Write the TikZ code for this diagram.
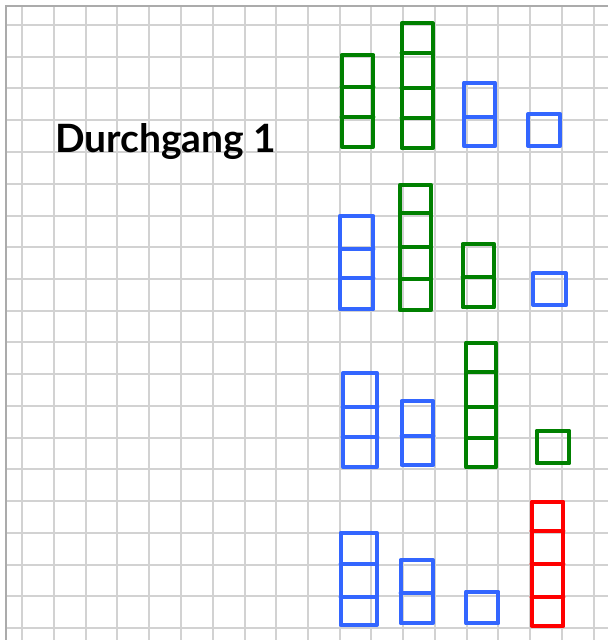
\documentclass[tikz,border=0pt]{standalone}
\usepackage{fontspec}
\setmainfont{Lato}
\definecolor{gridgray}{HTML}{D2D2D2}
\definecolor{bordergray}{HTML}{ABABAB}
\definecolor{pengreen}{HTML}{008000}
\definecolor{penblue}{HTML}{3366FF}
\definecolor{penred}{HTML}{FF0000}
\newcommand{\stackbar}[6]{%
  \draw[penline,#1] (#2,#4) rectangle (#3,#5);
  \foreach \yy in {#6} {\draw[penline,#1] (#2,\yy) -- (#3,\yy);}
}
\newcommand{\onecell}[5]{%
  \draw[penline,#1] (#2,#4) rectangle (#3,#5);
}
\begin{document}
\begin{tikzpicture}[x=1pt,y=-1pt,
  paperline/.style={draw=gridgray,line width=1.5pt},
  borderline/.style={draw=bordergray,line width=2pt},
  penline/.style={line width=4.2pt,line join=round,line cap=round},
  hand/.style={font=\bfseries\fontsize{39}{39}\selectfont,inner sep=0pt}]
\useasboundingbox (0,0) rectangle (608,640);
\fill[white] (0,0) rectangle (608,640);
% grid
\foreach \gx in {22,54,86,117,149,181,213,245,276,308,340,371,403,435,467,498,530,562,594}
  {\path[paperline] (\gx,7) -- (\gx,640);}
\foreach \gy in {25,57,88,120,152,184,216,247,279,311,342,374,406,438,469,501,533,565,596,628}
  {\path[paperline] (7,\gy) -- (608,\gy);}
\path[borderline] (6,640) -- (6,6) -- (608,6);
% title
\node[hand,anchor=base west] (title) at (55,152) {Durchgang 1};
% row 1
\stackbar{pengreen}{341.7}{373.3}{55}{146.7}{86.7,117.3}
\stackbar{pengreen}{401.7}{432.7}{23.3}{148.3}{52.7,88.3,118.3}
\stackbar{penblue}{464}{495}{82.7}{146}{116.7}
\onecell{penblue}{528.3}{560}{114}{146}
% row 2
\stackbar{penblue}{340}{373.3}{216}{309.3}{249.3,278.3}
\stackbar{pengreen}{400}{431}{185}{310}{213.3,246.7,279.3}
\stackbar{pengreen}{462.7}{494}{244}{307.3}{277.3}
\onecell{penblue}{533.3}{566}{273.3}{305}
% row 3
\stackbar{penblue}{342.7}{377.3}{373.3}{466.7}{406.7,437.3}
\stackbar{penblue}{401.7}{433.3}{401}{465}{436}
\stackbar{pengreen}{466}{496}{342.7}{467.3}{371.7,406.7,438.3}
\onecell{pengreen}{536.7}{569.3}{430.7}{463.3}
% row 4
\stackbar{penblue}{340.7}{376.7}{532.7}{625}{564,596.7}
\stackbar{penblue}{400.7}{432.7}{560}{623.3}{592.7}
\onecell{penblue}{466}{498.3}{591.7}{623.3}
\stackbar{penred}{531.7}{563.3}{501.7}{626}{530.7,564,596.7}
\end{tikzpicture}
\end{document}
